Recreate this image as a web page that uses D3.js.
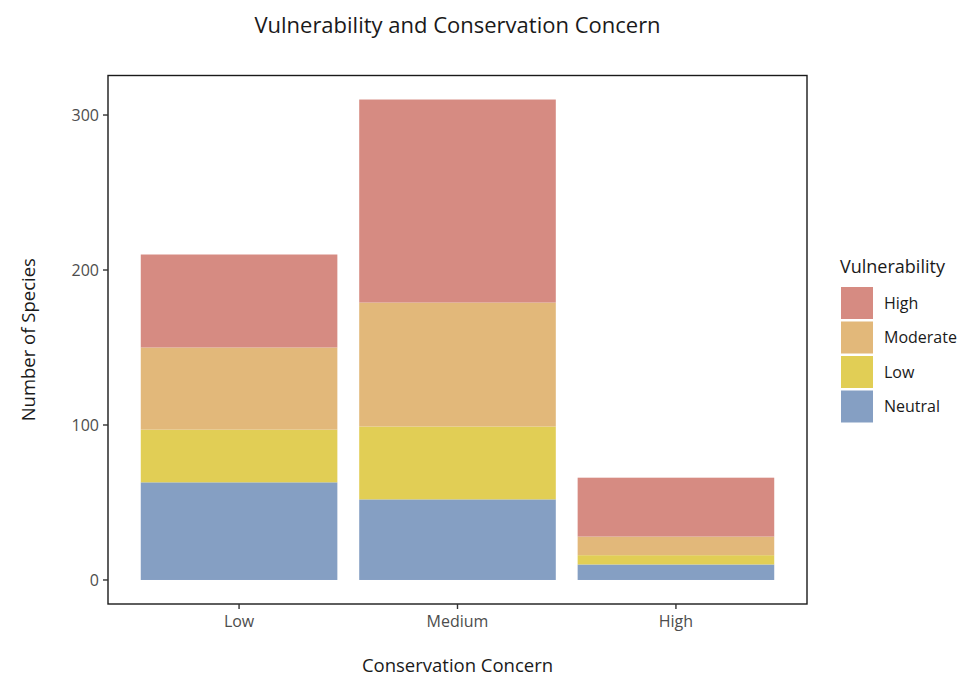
<!DOCTYPE html>
<html><head><meta charset="utf-8">
<script src="https://cdn.jsdelivr.net/npm/d3@7"></script>
<style>body{margin:0;background:#fff;} text{font-family:"Open Sans",Lato,sans-serif;}</style>
</head><body>
<svg id="c" width="960" height="677"></svg>
<script>
const categories = ["Low", "Medium", "High"];
const vulnerability = ["Neutral", "Low", "Moderate", "High"];
const neutralValues = [63, 52, 10];
const lowValues = [34, 47, 6];
const moderateValues = [53, 80, 12];
const highValues = [60, 131, 38];
const yTicks = [0, 100, 200, 300];
const colors = {High: "#D68B82", Moderate: "#E2B87A", Low: "#E1CE55", Neutral: "#859FC3"};

const rows = categories.map((c, i) => ({cat: c, Neutral: neutralValues[i], Low: lowValues[i], Moderate: moderateValues[i], High: highValues[i]}));
const stacked = d3.stack().keys(vulnerability)(rows);
const maxTotal = d3.max(rows, r => r.Neutral + r.Low + r.Moderate + r.High);

const svg = d3.select("#c");
const L = 108, R = 807, T = 75.5, B = 604;
// ggplot-like discrete axis: unit spacing, 0.6 expansion each side, bar width 0.9
const unit = (R - L) / 3.2;
const x = d3.scalePoint().domain(categories).range([L + 0.6 * unit, R - 0.6 * unit]);
const bw = 0.9 * unit;
const y = d3.scaleLinear().domain([-0.05 * maxTotal, maxTotal * 1.05]).range([B, T]);

const g = svg.append("g");
stacked.forEach(s => {
  g.selectAll(null).data(s).enter().append("rect")
    .attr("x", d => x(d.data.cat) - bw / 2)
    .attr("width", bw)
    .attr("y", d => y(d[1]))
    .attr("height", d => y(d[0]) - y(d[1]))
    .attr("fill", colors[s.key]);
});

svg.append("rect").attr("x", L).attr("y", T).attr("width", R - L).attr("height", B - T)
  .attr("fill", "none").attr("stroke", "#1a1a1a").attr("stroke-width", 1.4);

yTicks.forEach(t => {
  svg.append("line").attr("x1", L - 5).attr("x2", L).attr("y1", y(t)).attr("y2", y(t)).attr("stroke", "#333").attr("stroke-width", 1.4);
  svg.append("text").attr("x", L - 9).attr("y", y(t)).attr("dy", "0.35em").attr("text-anchor", "end")
    .attr("font-size", 16).attr("fill", "#4d4d4d").text(t);
});
categories.forEach(c => {
  svg.append("line").attr("x1", x(c)).attr("x2", x(c)).attr("y1", B).attr("y2", B + 5).attr("stroke", "#333").attr("stroke-width", 1.4);
  svg.append("text").attr("x", x(c)).attr("y", B + 23).attr("text-anchor", "middle")
    .attr("font-size", 16).attr("fill", "#4d4d4d").text(c);
});

svg.append("text").attr("x", (L + R) / 2).attr("y", 33).attr("text-anchor", "middle").attr("font-size", 22).attr("fill", "#1a1a1a")
  .text("Vulnerability and Conservation Concern");
svg.append("text").attr("x", (L + R) / 2).attr("y", 672).attr("text-anchor", "middle").attr("font-size", 18.5).attr("fill", "#1a1a1a")
  .text("Conservation Concern");
svg.append("text").attr("transform", `translate(35,${(T + B) / 2}) rotate(-90)`).attr("text-anchor", "middle").attr("font-size", 18.5).attr("fill", "#1a1a1a")
  .text("Number of Species");

const lg = svg.append("g").attr("transform", "translate(840,0)");
lg.append("text").attr("x", 0).attr("y", 273).attr("font-size", 18).attr("fill", "#1a1a1a").text("Vulnerability");
const legendKeys = ["High", "Moderate", "Low", "Neutral"];
legendKeys.forEach((k, i) => {
  const yy = 287 + i * 34.5;
  lg.append("rect").attr("x", 1).attr("y", yy).attr("width", 32).attr("height", 32).attr("fill", colors[k]);
  lg.append("text").attr("x", 44).attr("y", yy + 16).attr("dy", "0.35em").attr("font-size", 16).attr("fill", "#1a1a1a").text(k);
});
</script>
</body></html>
